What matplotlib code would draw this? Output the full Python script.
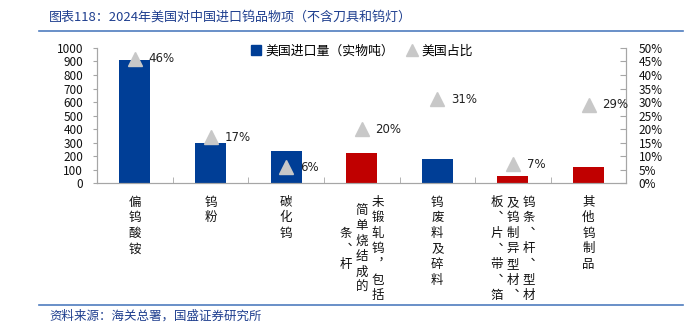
import matplotlib
matplotlib.use('Agg')
import matplotlib.pyplot as plt
from matplotlib.ticker import MultipleLocator, FuncFormatter
from matplotlib.lines import Line2D

plt.rcParams['font.family'] = ['Noto Sans CJK SC', 'DejaVu Sans']

# ── 数据 ────────────────────────────────────────────────
categories = ['偏钨酸铵', '钨粉', '碳化钨',
              '未锻轧钨，包括简单烧结成的条、杆',
              '钨废料及碎料',
              '钨条、杆、型材及钨制异型材、板、片、带、箔',
              '其他钨制品']
# 竖排标签：每列从右往左
label_cols = [['偏钨酸铵'], ['钨粉'], ['碳化钨'],
              ['未锻轧钨，包括', '简单烧结成的', '条、杆'],
              ['钨废料及碎料'],
              ['钨条、杆、型材', '及钨制异型材、', '板、片、带、箔'],
              ['其他钨制品']]
volume = [910, 298, 236, 228, 179, 58, 120]      # 实物吨
share = [46, 17, 6, 20, 31, 7, 29]               # %
is_red = [False, False, False, True, False, True, True]

BLUE = '#003E96'
RED = '#C00000'
GRAY = '#C8C8C8'
SPINE = '#A6A6A6'
TITLE_BLUE = '#1F3F8F'
LINE_BLUE = '#4F7DBF'

fig = plt.figure(figsize=(6.99, 3.30), dpi=100)
ax = fig.add_axes([0.139, 0.444, 0.757, 0.411])
ax2 = ax.twinx()

x = list(range(len(categories)))
colors = [RED if r else BLUE for r in is_red]
ax.bar(x, volume, width=0.41, color=colors, edgecolor='none', zorder=2)
ax2.plot(x, share, linestyle='none', marker='^', markersize=10,
         color=GRAY, zorder=3)
for xi, s in zip(x, share):
    ax2.annotate(f'{s}%', (xi, s), xytext=(10, 0), textcoords='offset points',
                 ha='left', va='center', fontsize=8.5, color='#222222',
                 family='DejaVu Sans')

# ── 坐标轴 ──────────────────────────────────────────────
ax.set_xlim(-0.5, len(categories) - 0.5)
ax.set_ylim(0, 1000)
ax.yaxis.set_major_locator(MultipleLocator(100))
ax2.set_ylim(0, 50)
ax2.yaxis.set_major_locator(MultipleLocator(5))
ax2.yaxis.set_major_formatter(FuncFormatter(lambda v, p: f'{v:.0f}%'))

for a in (ax, ax2):
    a.spines['top'].set_visible(False)
    for s in ('left', 'right', 'bottom'):
        a.spines[s].set_color(SPINE)
        a.spines[s].set_linewidth(0.8)

ax.tick_params(axis='y', direction='out', length=3, color=SPINE, pad=7,
               labelsize=8.5, labelcolor='#111111')
ax2.tick_params(axis='y', direction='in', length=4, color=SPINE, pad=9,
                labelsize=8.5, labelcolor='#111111')
ax.set_xticks(x)
ax.set_xticklabels([])
ax.tick_params(axis='x', which='major', length=0)
ax.set_xticks([i + 0.5 for i in x[:-1]], minor=True)
ax.tick_params(axis='x', which='minor', direction='in', length=4, color=SPINE)

# 竖排类别标签
step = 11.2      # pt, 字间距
col_step = 11.6  # pt, 列间距
top_off = 13.5   # pt
vert = {'、': '\ufe11', '，': '\ufe10'}
for xi, cols in zip(x, label_cols):
    ncol = len(cols)
    nmax = max(len(c) for c in cols)
    cy = -(top_off + (nmax - 1) * step / 2)
    for k, col in enumerate(cols):
        dx = ((ncol - 1) / 2 - k) * col_step
        n = len(col)
        for j, ch in enumerate(col):
            dy = cy + ((n - 1) / 2 - j) * step
            ax.annotate(vert.get(ch, ch), (xi, 0), xycoords=('data', 'axes fraction'),
                        xytext=(dx, dy), textcoords='offset points',
                        ha='center', va='center', fontsize=9, color='#111111',
                        annotation_clip=False)

# 图例
handles = [Line2D([], [], linestyle='none', marker='s', markersize=7, color=BLUE),
           Line2D([], [], linestyle='none', marker='^', markersize=8, color=GRAY)]
ax.legend(handles, ['美国进口量（实物吨）', '美国占比'], loc='center',
          bbox_to_anchor=(0.5, 0.975), ncol=2, frameon=False, fontsize=9.3,
          handlelength=0.8, handletextpad=0.3, columnspacing=1.0,
          borderpad=0.2)

# 标题、来源、分隔线
fig.text(0.070, 0.948, '图表118：2024年美国对中国进口钨品物项（不含刀具和钨灯）',
         fontsize=9.4, color=TITLE_BLUE, style='italic', va='center', ha='left')
fig.add_artist(Line2D([0.056, 0.977], [0.906, 0.906], color=LINE_BLUE, lw=1.2,
                      transform=fig.transFigure))
fig.add_artist(Line2D([0.056, 0.977], [0.076, 0.076], color=LINE_BLUE, lw=1.2,
                      transform=fig.transFigure))
fig.text(0.070, 0.042, '资料来源：海关总署，国盛证券研究所',
         fontsize=9, color=TITLE_BLUE, style='italic', va='center', ha='left')

fig.savefig('out.png', dpi=100)
plt.close(fig)
